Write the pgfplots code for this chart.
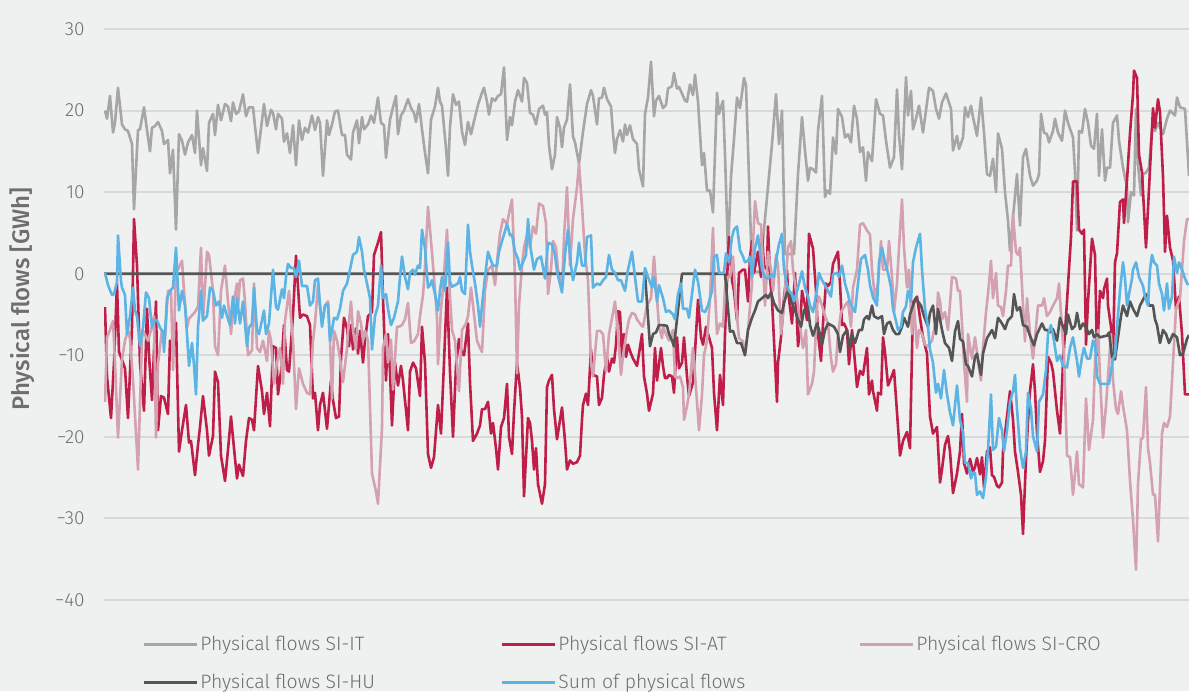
\documentclass[border=0pt]{standalone}
\usepackage{pgfplots}
\pgfplotsset{compat=1.18}
\usepackage{fontspec}
\setmainfont{Fira Sans Light}[BoldFont={Fira Sans Medium}]
\definecolor{bgc}{RGB}{239,240,240}
\definecolor{gridc}{RGB}{216,218,218}
\definecolor{cIT}{RGB}{166,166,166}
\definecolor{cAT}{RGB}{190,30,72}
\definecolor{cCRO}{RGB}{212,161,177}
\definecolor{cHU}{RGB}{85,85,85}
\definecolor{cSUM}{RGB}{92,180,229}
\definecolor{tickc}{RGB}{110,110,110}
\begin{document}
\begin{tikzpicture}
\fill[bgc] (-52pt,-45.5pt) rectangle (542.5pt,300pt);
\begin{axis}[
  scale only axis, width=542.5pt, height=285.5pt,
  xmin=104, xmax=1189, ymin=-40, ymax=30,
  axis line style={draw=none},
  xtick=\empty,
  ytick={-40,-30,-20,-10,0,10,20,30},
  yticklabels={−40,−30,−20,−10,0,10,20,30},
  ymajorgrids, grid style={color=gridc, line width=1pt},
  major tick length=0pt,
  yticklabel style={font=\fontsize{9.5}{11}\selectfont, text=tickc, inner sep=0pt, xshift=-9.5pt},
  no markers,
  every axis plot post/.append style={line width=1.3pt, line join=round},
  legend columns=3,
  legend cell align=left,
  legend image code/.code={\draw[#1,line width=1.5pt] (0pt,0pt) -- (26.5pt,0pt);},
  legend style={at={(0,0)}, anchor=north west, xshift=19pt, yshift=-15.5pt, draw=none, fill=none, inner sep=0pt, column sep=0pt, row sep=6.5pt, font=\fontsize{9.7}{11}\selectfont, text=tickc},
]
% SI-IT
\addplot[cIT] coordinates {(105,20.0)(107,19.0)(110,21.8)(113,17.3)(115,18.5)(118,22.8)(122,18.3)(125,17.7)(128,17.5)(132,15.9)(134,7.9)(138,17.6)(140,17.7)(144,20.4)(147,17.6)(150,15.0)(152,17.9)(155,18.1)(158,18.6)(162,17.5)(164,15.9)(168,16.4)(170,12.3)(173,15.2)(176,5.4)(179,17.1)(182,16.3)(185,14.6)(188,16.1)(192,17.0)(195,14.8)(197,20.0)(201,13.3)(203,15.4)(207,12.6)(209,18.5)(213,19.6)(215,17.0)(218,20.7)(221,18.8)(225,20.8)(228,20.5)(231,18.7)(233,21.0)(236,19.6)(239,19.9)(243,22.0)(246,19.3)(249,20.4)(253,20.4)(255,18.1)(258,14.8)(264,20.8)(267,18.1)(271,20.1)(273,19.7)(276,17.7)(278,19.6)(282,19.0)(284,16.2)(287,17.2)(290,14.8)(293,18.2)(296,13.3)(299,18.8)(302,16.4)(305,17.9)(308,17.3)(312,19.4)(315,17.6)(318,19.2)(320,18.5)(323,12.0)(327,18.8)(329,17.0)(332,18.3)(335,19.9)(338,20.0)(342,17.0)(345,17.0)(347,14.6)(351,14.0)(353,17.3)(357,18.8)(359,16.0)(362,19.2)(364,17.7)(368,18.3)(371,19.4)(374,18.5)(378,21.6)(381,18.5)(384,18.2)(386,14.2)(390,18.9)(393,20.4)(396,21.8)(398,17.1)(401,19.4)(404,20.0)(408,21.4)(411,20.3)(414,19.7)(416,18.6)(419,20.8)(422,17.7)(425,14.8)(428,12.3)(431,18.9)(435,20.5)(438,22.8)(440,21.1)(442,20.6)(446,15.4)(448,12.0)(450,18.0)(453,22.0)(456,20.7)(459,21.1)(462,17.4)(465,15.8)(468,18.6)(471,17.1)(474,18.7)(478,20.7)(482,22.2)(484,22.8)(487,21.1)(489,19.5)(492,21.5)(495,21.2)(498,21.8)(501,22.0)(504,25.3)(507,16.4)(510,19.2)(512,18.2)(515,21.1)(518,22.5)(522,21.1)(524,24.0)(527,23.4)(530,19.7)(533,19.5)(536,18.3)(539,20.2)(543,20.6)(545,19.5)(547,19.8)(549,15.7)(552,12.8)(555,14.6)(557,19.2)(560,17.9)(562,15.5)(564,17.9)(567,18.9)(570,23.2)(573,16.8)(575,16.1)(579,13.5)(583,17.4)(587,20.8)(591,22.5)(593,21.8)(597,18.3)(599,21.5)(602,21.6)(604,22.8)(607,21.4)(611,20.5)(613,17.2)(615,14.8)(617,16.5)(620,17.6)(623,16.2)(625,18.3)(627,17.0)(630,18.2)(633,16.5)(637,15.9)(639,12.8)(643,10.7)(645,19.6)(648,21.6)(651,26.0)(654,19.3)(656,21.2)(659,21.8)(663,20.3)(666,20.7)(668,22.7)(672,23.0)(674,24.6)(677,22.7)(679,22.9)(683,21.8)(685,21.2)(687,21.1)(690,23.2)(693,21.9)(695,24.4)(698,21.1)(702,13.3)(704,14.8)(707,10.2)(710,10.2)(713,7.5)(717,22.2)(719,19.6)(723,21.2)(725,14.6)(728,2.7)(731,11.9)(734,16.5)(737,21.6)(740,20.3)(744,24.0)(746,23.1)(752,0.3)(760,0.2)(772,15.9)(776,22.0)(779,15.9)(782,20.0)(785,2.4)(794,2.4)(798,12.2)(802,19.2)(805,15.1)(808,11.4)(810,13.0)(813,12.8)(816,12.4)(818,17.5)(822,21.8)(825,9.4)(827,10.2)(830,9.8)(833,16.7)(836,14.7)(838,20.2)(842,19.2)(845,16.7)(848,17.1)(851,16.1)(854,20.6)(857,19.0)(860,14.9)(863,15.5)(866,11.4)(868,14.9)(872,13.8)(876,21.4)(880,19.6)(883,19.4)(886,16.3)(890,13.0)(894,14.3)(897,22.6)(899,17.1)(902,12.8)(906,24.1)(908,19.4)(911,22.4)(913,17.7)(916,19.0)(919,20.6)(923,17.3)(929,22.8)(933,22.4)(936,20.2)(939,19.0)(942,21.0)(946,22.1)(951,20.2)(953,15.1)(957,16.9)(959,15.3)(963,16.7)(965,20.4)(968,19.2)(971,20.6)(973,19.2)(977,16.9)(981,21.6)(984,17.3)(987,12.2)(990,12.0)(993,14.1)(996,10.0)(998,17.2)(1002,15.3)(1005,10.0)(1008,6.5)(1010,2.8)(1013,6.9)(1017,12.2)(1020,5.9)(1023,14.3)(1026,15.3)(1030,12.0)(1033,10.8)(1037,11.4)(1039,12.2)(1041,19.6)(1044,17.3)(1047,17.1)(1049,16.1)(1053,17.5)(1055,19.0)(1058,17.3)(1062,16.3)(1065,20.0)(1068,18.5)(1073,16.7)(1075,12.4)(1077,5.3)(1079,17.5)(1082,17.3)(1085,20.2)(1088,18.5)(1091,15.7)(1094,15.3)(1097,19.6)(1099,12.0)(1102,17.7)(1105,11.4)(1107,13.0)(1110,13.0)(1113,18.5)(1117,19.4)(1119,16.3)(1123,13.0)(1127,10.6)(1128,6.3)(1131,10.0)(1134,9.6)(1136,20.2)(1138,13.4)(1141,9.6)(1143,12.2)(1146,12.4)(1149,13.0)(1152,17.7)(1155,17.5)(1158,18.5)(1163,17.1)(1167,19.0)(1170,20.0)(1175,19.4)(1177,21.6)(1180,20.4)(1185,20.2)(1189,12.0)};
\addlegendentry{\makebox[147pt][l]{\hspace{-1pt}Physical flows SI-IT}}
% SI-AT
\addplot[cAT] coordinates {(105,-4.1)(107,-12.6)(111,-17.7)(114,-10.9)(117,-1.2)(119,-9.6)(123,-10.9)(125,-11.6)(128,-17.7)(132,-6.5)(134,6.7)(137,1.0)(140,-10.9)(144,-16.8)(147,-4.3)(149,-10.0)(152,-15.5)(156,-3.4)(158,-19.2)(161,-15.0)(164,-15.2)(168,-17.2)(170,-8.2)(173,-9.0)(176,-6.0)(179,-21.8)(182,-19.2)(186,-16.1)(189,-20.7)(191,-20.5)(195,-24.7)(198,-21.0)(200,-18.8)(203,-15.0)(207,-19.2)(209,-22.3)(213,-19.9)(215,-12.0)(218,-13.3)(221,-22.3)(225,-25.4)(228,-21.6)(231,-17.5)(234,-21.4)(237,-25.1)(239,-23.4)(243,-24.8)(246,-20.5)(249,-17.7)(252,-17.9)(254,-19.2)(258,-11.3)(262,-14.4)(264,-17.2)(267,-14.6)(270,-18.7)(273,-8.9)(276,-9.1)(278,-14.8)(281,-12.0)(284,-6.3)(287,-11.8)(289,-12.0)(293,-5.1)(296,2.2)(300,-5.4)(303,-5.0)(307,-5.2)(310,-6.3)(313,-15.3)(315,-14.6)(318,-19.2)(320,-16.1)(323,-14.6)(327,-19.0)(331,-13.1)(333,-15.5)(336,-17.7)(339,-17.5)(341,-10.4)(344,-5.4)(347,-6.7)(349,-8.9)(351,-6.3)(353,-9.3)(356,-6.7)(358,-9.8)(360,-7.0)(363,-10.9)(365,-8.2)(368,-5.2)(372,-4.7)(374,2.3)(378,3.8)(381,5.1)(383,-3.0)(386,-13.1)(388,-7.4)(390,-12.0)(392,-18.6)(395,-10.9)(398,-13.7)(401,-11.3)(403,-13.1)(408,-19.2)(410,-12.0)(413,-10.9)(416,-11.6)(420,-15.0)(422,-6.5)(425,-10.9)(428,-22.1)(431,-23.8)(434,-22.5)(438,-16.1)(441,-19.6)(444,-10.9)(447,-1.7)(450,-12.0)(453,-20.0)(456,-11.3)(459,-8.0)(462,-9.8)(464,-10.0)(468,-6.1)(470,-13.3)(473,-20.5)(477,-19.6)(480,-18.6)(482,-16.6)(485,-16.6)(488,-15.7)(491,-19.6)(493,-18.3)(496,-21.4)(498,-24.0)(501,-18.8)(504,-17.7)(507,-13.5)(509,-20.0)(512,-22.1)(514,-17.0)(517,-10.9)(520,-14.0)(522,-17.5)(524,-27.3)(528,-17.7)(530,-18.3)(532,-20.5)(534,-24.0)(536,-21.4)(538,-25.8)(542,-28.2)(545,-25.8)(547,-13.9)(549,-13.1)(552,-12.4)(554,-16.6)(557,-20.3)(562,-16.4)(565,-20.5)(567,-24.0)(570,-22.9)(573,-23.3)(577,-23.1)(580,-22.3)(582,-17.9)(583,-16.1)(586,-14.7)(588,-16.1)(591,-9.3)(593,-12.4)(597,-12.6)(599,-16.1)(602,-15.2)(604,-12.4)(607,-10.2)(609,-12.0)(612,-10.4)(614,-10.9)(616,-8.7)(618,-4.6)(620,-4.7)(622,-10.2)(624,-7.4)(626,-10.2)(628,-8.7)(631,-9.8)(633,-10.4)(637,-11.3)(639,-9.8)(642,-7.4)(644,-12.6)(647,-14.7)(649,-16.8)(653,-14.7)(655,-9.1)(657,-13.1)(661,-9.1)(663,-11.3)(665,-12.8)(667,-12.8)(669,-12.4)(672,-12.6)(674,-14.6)(677,-7.8)(679,-11.6)(682,-10.9)(684,-7.8)(687,-12.6)(689,-15.0)(693,-13.3)(695,-9.6)(698,-3.2)(701,-7.8)(703,-8.7)(706,-6.5)(709,-7.8)(712,-9.1)(714,-14.6)(717,-19.2)(720,-12.4)(723,-16.1)(725,-7.4)(727,-0.8)(729,4.5)(732,-0.8)(734,-2.1)(737,-5.7)(739,0.1)(743,0.5)(745,0.5)(748,-3.4)(750,2.0)(752,4.0)(754,0.1)(757,2.1)(758,2.7)(761,-0.4)(762,4.8)(764,1.0)(767,0.5)(768,5.8)(770,-0.4)(772,-3.2)(774,-8.2)(777,-15.7)(778,-10.9)(781,-7.8)(784,-3.0)(787,0.5)(788,-2.1)(792,-6.1)(794,-2.1)(795,0.1)(798,-8.9)(800,-6.9)(802,-2.1)(805,-3.9)(807,-5.7)(809,4.9)(813,3.1)(816,-2.1)(818,-7.4)(821,-10.7)(823,-6.1)(826,-1.2)(828,-1.5)(831,-1.0)(833,1.2)(838,2.7)(840,-1.2)(842,-6.3)(844,-6.1)(847,-6.9)(849,-11.1)(852,-6.9)(855,-10.9)(857,-13.9)(860,-11.9)(863,-12.4)(867,-9.1)(869,-14.8)(872,-13.1)(873,-14.4)(877,-16.8)(878,-14.6)(881,-14.8)(883,-7.8)(885,-9.6)(888,-13.7)(891,-12.8)(894,-11.8)(897,-17.0)(900,-22.3)(903,-20.5)(907,-19.4)(910,-21.4)(913,-3.5)(917,-2.8)(920,-5.4)(923,-7.8)(927,-9.8)(930,-17.5)(933,-19.6)(937,-18.8)(940,-25.6)(942,-24.0)(945,-21.0)(948,-19.9)(950,-21.8)(953,-26.9)(957,-24.5)(960,-21.8)(962,-17.2)(964,-23.2)(967,-24.5)(970,-22.7)(973,-24.3)(975,-23.7)(977,-22.6)(980,-24.6)(982,-22.5)(984,-26.2)(987,-21.8)(990,-21.3)(992,-24.7)(994,-24.9)(997,-26.0)(999,-26.2)(1002,-25.6)(1003,-21.8)(1007,-17.5)(1010,-14.4)(1013,-17.9)(1015,-21.8)(1018,-24.3)(1021,-27.1)(1023,-31.9)(1026,-22.7)(1028,-18.1)(1030,-14.4)(1033,-11.1)(1035,-14.4)(1037,-19.6)(1040,-24.3)(1043,-23.0)(1045,-20.5)(1048,-10.2)(1051,-10.9)(1053,-12.0)(1057,-16.8)(1060,-19.6)(1063,-10.9)(1067,-3.4)(1071,4.5)(1073,11.3)(1077,11.3)(1079,5.4)(1082,4.9)(1084,5.4)(1086,-8.7)(1088,-3.4)(1092,4.3)(1095,2.3)(1097,-10.0)(1100,-2.1)(1103,-3.0)(1104,-1.9)(1107,-0.6)(1108,-3.9)(1111,-6.5)(1113,-10.0)(1115,1.4)(1117,2.5)(1120,8.8)(1123,9.1)(1124,6.2)(1127,11.5)(1130,17.2)(1133,22.0)(1134,24.9)(1137,24.0)(1139,14.6)(1142,12.4)(1146,3.2)(1150,12.8)(1153,20.3)(1155,17.9)(1158,21.4)(1160,19.8)(1163,11.9)(1165,2.7)(1167,7.1)(1170,3.2)(1173,1.6)(1176,-4.3)(1179,-2.8)(1182,-7.4)(1185,-14.8)(1189,-14.8)};
\addlegendentry{\makebox[147pt][l]{\hspace{-1pt}Physical flows SI-AT}}
% SI-CRO
\addplot[cCRO] coordinates {(105,-15.7)(107,-7.8)(110,-6.9)(113,-5.8)(115,-10.9)(118,-20.1)(122,-10.5)(125,-8.2)(128,-6.9)(130,-8.0)(133,-13.0)(138,-24.0)(142,-8.0)(143,-7.0)(148,-8.2)(152,-6.5)(154,-5.2)(156,-20.1)(158,-11.0)(162,-6.9)(165,-8.0)(168,-2.1)(171,-2.1)(173,-11.8)(176,0.5)(178,0.5)(182,1.6)(184,-2.1)(187,-6.6)(189,-5.5)(192,-5.1)(195,-4.7)(198,-4.0)(201,3.2)(203,-5.8)(207,2.7)(209,2.3)(213,-2.1)(215,-8.9)(218,-10.0)(221,-2.1)(225,1.0)(228,-3.4)(231,-7.4)(233,-4.0)(237,-1.2)(238,-4.0)(240,-0.8)(243,-0.6)(245,-3.4)(248,-10.0)(252,-9.4)(254,-1.2)(257,-9.1)(260,-9.6)(263,-8.2)(267,-10.7)(269,-7.0)(271,-8.2)(274,-13.5)(277,-10.9)(280,-9.1)(283,-13.5)(285,-5.8)(289,-2.1)(291,-5.4)(293,-8.2)(296,-16.6)(299,-11.6)(303,-13.5)(307,-14.6)(310,-14.8)(313,-8.2)(315,-6.1)(318,-1.4)(320,-3.9)(322,-6.1)(325,-3.9)(328,-3.4)(330,-8.2)(332,-15.3)(334,-7.0)(337,-8.2)(340,-10.4)(343,-13.3)(347,-9.2)(348,-7.0)(351,-3.4)(353,-7.0)(356,-9.2)(358,-4.6)(361,-6.1)(363,-8.2)(365,-7.0)(368,-8.2)(372,-24.5)(376,-26.7)(378,-28.2)(382,-18.9)(383,-9.1)(386,-7.4)(388,-10.9)(391,-8.1)(393,-14.2)(397,-6.5)(399,-6.5)(402,-6.3)(405,-5.6)(408,-3.6)(411,-8.5)(414,-8.3)(418,-7.4)(420,-5.2)(423,-2.6)(425,0.9)(428,8.2)(431,4.0)(434,-0.4)(437,-5.4)(438,-11.1)(441,-4.3)(443,-1.9)(447,5.4)(449,-0.8)(452,-6.9)(455,-8.2)(459,-14.4)(462,-6.9)(466,-6.1)(468,-5.2)(471,-1.7)(477,-8.2)(480,-9.1)(482,-9.6)(485,-2.1)(488,0.5)(492,1.0)(495,-1.4)(498,2.7)(500,4.9)(503,6.7)(507,6.1)(510,8.0)(512,9.1)(515,-0.4)(517,-12.2)(519,-3.9)(522,1.0)(524,3.2)(528,5.4)(530,3.2)(533,5.8)(536,4.9)(539,8.6)(543,8.3)(546,6.2)(548,-2.5)(551,0.5)(553,4.0)(556,3.2)(558,0.5)(562,-1.7)(564,4.4)(567,10.6)(570,1.0)(573,6.7)(577,10.6)(579,13.5)(582,8.3)(585,2.3)(588,-0.8)(591,-10.9)(593,-12.6)(597,-7.0)(600,-7.0)(603,-7.4)(606,-12.0)(609,-7.4)(613,-4.8)(615,-3.4)(618,-7.4)(621,-12.4)(623,-10.0)(627,-6.9)(629,-5.6)(632,-4.8)(635,-5.0)(637,-5.6)(641,-6.3)(643,-6.5)(647,-3.9)(651,-3.0)(654,2.1)(657,-3.0)(659,-6.5)(662,-7.9)(663,-6.5)(666,-7.4)(669,-8.2)(673,-6.9)(675,-12.6)(677,-12.8)(680,-12.6)(683,-13.9)(684,-17.9)(687,-16.2)(689,-14.8)(693,-9.1)(697,-15.7)(699,-19.2)(702,-14.8)(704,-10.0)(707,-8.2)(710,-3.0)(713,5.6)(715,-2.1)(717,-7.4)(720,-6.1)(723,-6.5)(725,-1.7)(727,-0.4)(730,-0.4)(733,2.1)(736,-3.9)(739,-7.9)(743,-8.3)(745,-10.0)(748,-6.9)(752,-1.2)(753,3.6)(755,8.9)(758,6.2)(761,6.0)(763,1.0)(765,-3.9)(768,2.7)(771,0.5)(773,-2.1)(776,2.3)(778,1.0)(781,-7.4)(784,-3.9)(788,3.2)(791,4.0)(793,0.5)(796,-2.1)(798,-3.9)(801,-7.4)(803,-9.1)(806,-6.9)(808,-14.8)(812,-13.5)(814,-12.0)(817,-3.9)(819,-2.8)(822,-3.9)(825,-5.2)(828,-6.1)(831,-10.4)(833,-12.0)(836,-11.1)(838,-7.4)(841,-4.7)(845,-3.9)(848,-3.4)(851,-6.5)(853,-1.7)(857,0.5)(860,6.0)(863,6.2)(867,5.3)(870,4.8)(872,0.5)(875,-3.0)(878,-1.2)(881,4.0)(883,0.5)(887,0.5)(889,4.0)(892,-0.4)(894,-4.7)(897,-1.2)(899,3.2)(902,9.1)(904,3.2)(907,-1.7)(909,0.5)(912,-7.4)(914,-3.9)(917,-9.1)(919,-6.9)(922,-7.4)(925,-8.7)(928,-8.9)(932,-8.2)(934,-6.9)(937,-5.2)(938,-2.3)(940,-3.4)(942,-5.6)(945,-4.7)(948,-6.9)(952,-0.4)(956,-0.6)(958,-2.1)(960,-2.1)(962,-6.1)(964,-10.9)(967,-15.7)(968,-7.4)(972,-10.4)(975,-7.8)(977,-9.6)(978,-10.9)(981,-13.1)(983,-9.1)(986,-4.7)(988,-2.5)(991,1.6)(993,-3.0)(996,0.1)(998,-3.9)(1001,-4.1)(1003,-5.2)(1006,-2.1)(1008,1.0)(1011,1.0)(1013,7.3)(1016,2.7)(1018,2.3)(1020,3.2)(1023,-3.9)(1025,-8.3)(1027,-3.0)(1030,-7.4)(1033,-10.4)(1035,-7.9)(1038,-3.9)(1042,-3.9)(1044,-3.0)(1047,-5.2)(1050,-4.7)(1053,-3.9)(1057,-3.0)(1059,-1.2)(1062,-6.9)(1064,-10.0)(1067,-22.3)(1070,-22.5)(1073,-27.1)(1077,-21.8)(1079,-25.8)(1083,-26.2)(1086,-15.3)(1089,-21.6)(1093,-17.9)(1095,-10.9)(1098,-6.9)(1100,-12.6)(1103,-20.1)(1106,-16.2)(1108,-12.6)(1111,-7.4)(1113,-13.1)(1116,-16.6)(1118,-17.2)(1121,-14.4)(1123,-16.2)(1127,-19.2)(1130,-25.4)(1133,-30.2)(1136,-36.3)(1138,-25.8)(1141,-20.3)(1143,-20.1)(1146,-13.9)(1148,-21.4)(1150,-23.2)(1153,-27.1)(1155,-27.1)(1158,-32.8)(1162,-19.6)(1164,-18.3)(1167,-18.8)(1170,-17.5)(1173,-10.9)(1176,-4.3)(1180,-3.0)(1184,4.0)(1187,6.7)(1189,6.7)};
\addlegendentry{\makebox[147pt][l]{\hspace{-1pt}Physical flows SI-CRO}}
% SI-HU
\addplot[cHU] coordinates {(104,0)(645,0)(650,-8.9)(653,-7.4)(656,-7.2)(659,-6.3)(663,-6.3)(667,-6.4)(669,-7.4)(672,-8.2)(674,-8.9)(682,0)(725,0)(730,-7.1)(733,-7.0)(737,-8.5)(741,-8.5)(745,-10.0)(748,-6.9)(752,-5.4)(755,-4.5)(758,-3.4)(762,-3.0)(766,-2.6)(768,-3.0)(771,-2.3)(774,-3.6)(778,-4.5)(782,-4.8)(784,-3.6)(787,-2.3)(790,-2.7)(792,-3.6)(795,-4.5)(798,-5.6)(801,-6.5)(804,-4.5)(808,-4.1)(810,-6.3)(813,-7.6)(817,-6.1)(819,-6.9)(822,-8.7)(825,-6.9)(828,-6.1)(831,-6.3)(834,-6.5)(838,-7.4)(840,-9.6)(843,-7.6)(847,-6.9)(850,-9.1)(852,-7.4)(855,-8.5)(859,-6.9)(862,-6.9)(864,-5.6)(867,-5.2)(869,-5.6)(872,-3.9)(874,-5.2)(878,-5.5)(882,-5.2)(884,-7.4)(887,-6.1)(890,-5.9)(893,-6.9)(896,-7.4)(899,-7.4)(902,-6.5)(904,-5.4)(908,-6.5)(910,-5.0)(913,-3.9)(916,-3.0)(918,-3.4)(921,-3.9)(924,-5.2)(928,-6.5)(930,-4.8)(933,-3.9)(936,-7.4)(938,-4.3)(942,-6.9)(945,-8.5)(949,-9.1)(952,-10.7)(955,-7.1)(958,-5.8)(960,-8.0)(963,-8.3)(966,-11.1)(968,-11.3)(972,-12.6)(975,-10.2)(977,-9.8)(981,-12.4)(983,-9.8)(987,-7.9)(992,-6.9)(995,-7.9)(998,-5.4)(1002,-6.1)(1005,-6.8)(1008,-5.7)(1012,-5.2)(1014,-2.5)(1017,-4.5)(1020,-4.1)(1023,-6.3)(1027,-6.5)(1030,-7.6)(1034,-8.8)(1037,-7.4)(1042,-6.1)(1045,-6.9)(1047,-6.9)(1050,-7.2)(1053,-6.8)(1057,-8.2)(1060,-5.4)(1063,-6.5)(1066,-7.4)(1068,-5.0)(1072,-6.8)(1075,-6.4)(1077,-4.8)(1080,-6.8)(1083,-6.1)(1086,-6.6)(1089,-7.4)(1092,-6.9)(1094,-7.8)(1097,-7.4)(1100,-7.8)(1103,-7.7)(1107,-7.6)(1109,-7.2)(1112,-10.2)(1115,-10.5)(1118,-7.8)(1121,-5.2)(1123,-3.9)(1127,-5.2)(1130,-3.4)(1133,-4.3)(1137,-5.2)(1140,-3.9)(1143,-3.2)(1146,-2.5)(1149,-3.9)(1153,-3.9)(1155,-5.6)(1157,-6.3)(1160,-8.5)(1163,-6.9)(1166,-7.4)(1169,-8.5)(1173,-7.4)(1177,-7.8)(1180,-10.0)(1183,-9.8)(1187,-8.0)(1189,-7.5)};
\addlegendentry{\makebox[147pt][l]{\hspace{-1pt}Physical flows SI-HU}}
% Sum
\addplot[cSUM] coordinates {(105,0.1)(108,-1.4)(112,-2.6)(114,-2.5)(117,-1.0)(118,4.7)(121,-0.9)(122,-1.7)(125,-2.6)(127,-7.4)(130,-5.2)(133,-1.7)(135,-4.5)(137,-5.2)(140,-8.9)(143,-6.6)(146,-2.3)(149,-3.0)(152,-6.6)(154,-5.7)(157,-5.7)(160,-6.6)(163,-7.2)(164,-9.6)(167,-3.0)(170,-2.1)(173,-1.7)(176,3.2)(179,-4.5)(182,-2.1)(185,-3.9)(187,-7.4)(189,-11.3)(192,-8.5)(194,-11.2)(196,-14.8)(198,-6.6)(201,-2.1)(203,-5.7)(207,-5.2)(210,-1.7)(213,-2.1)(216,-3.9)(219,-3.4)(222,-5.4)(224,-3.9)(227,-5.2)(230,-6.3)(233,-2.8)(235,-6.1)(237,-3.0)(240,-6.1)(243,-3.4)(247,-8.9)(249,-6.6)(252,-6.1)(254,-1.7)(257,-7.0)(259,-7.4)(262,-5.7)(264,-4.5)(266,-7.4)(269,-6.1)(273,0.5)(276,-4.1)(278,-4.4)(282,-1.9)(284,-3.0)(286,-0.4)(288,1.2)(291,0.7)(294,0.7)(296,-0.4)(299,1.6)(302,-1.5)(304,-1.5)(307,-1.5)(310,-3.9)(313,-3.4)(315,-0.8)(318,-0.6)(320,-3.9)(322,-6.5)(325,-3.9)(328,-3.7)(330,-8.2)(332,-6.9)(334,-5.4)(337,-5.6)(340,-4.3)(343,-2.1)(347,-1.2)(350,0.5)(353,2.3)(357,2.7)(359,4.5)(362,2.7)(364,0.5)(367,-1.2)(370,-3.0)(372,-9.3)(375,-5.2)(378,-3.9)(381,1.0)(383,-3.0)(386,-2.5)(388,-4.3)(391,-6.3)(394,-5.4)(398,-3.4)(400,-0.4)(402,2.1)(405,-0.4)(408,-1.9)(410,0.1)(413,0.5)(415,-0.1)(418,1.0)(420,0.7)(422,5.4)(425,3.1)(428,-1.7)(430,-1.4)(432,-0.8)(435,-2.5)(438,-4.5)(440,-2.1)(442,-0.4)(445,-2.1)(448,3.8)(450,-1.0)(452,-1.6)(455,-1.4)(458,-1.2)(460,-0.4)(462,-2.1)(465,-2.5)(468,6.0)(470,2.7)(472,1.0)(475,-1.2)(478,-3.9)(480,-6.5)(482,-3.9)(485,-0.4)(488,2.7)(491,1.6)(493,1.0)(497,1.0)(499,2.7)(502,4.0)(504,4.8)(507,6.1)(510,4.7)(512,4.8)(515,2.7)(518,1.8)(520,0.5)(523,1.4)(526,2.3)(528,6.7)(530,3.6)(534,0.5)(537,1.8)(541,2.1)(545,-0.6)(548,3.8)(552,3.6)(555,2.3)(557,0.3)(562,-2.3)(565,2.3)(568,5.4)(571,1.0)(573,-0.8)(577,1.4)(579,3.8)(582,1.0)(585,1.0)(587,4.5)(591,4.7)(593,-1.7)(597,-1.2)(600,-1.4)(603,-0.8)(606,-0.4)(609,2.3)(612,0.5)(615,0.1)(618,-0.8)(621,-0.8)(625,-2.1)(628,0.5)(632,2.7)(635,-0.4)(638,-3.4)(642,-3.4)(645,0.7)(648,-0.4)(652,-1.7)(654,-0.4)(657,-3.4)(659,-1.4)(663,-3.0)(666,-4.7)(669,-4.5)(673,-5.0)(675,-5.6)(678,-2.5)(681,-1.2)(683,-4.3)(687,-4.3)(689,-5.4)(692,-2.5)(695,0.5)(698,-1.0)(702,-4.5)(705,-4.7)(708,-3.9)(712,-2.1)(714,2.1)(717,2.3)(719,0.1)(722,0.1)(724,0.1)(726,2.5)(729,1.4)(732,4.5)(734,5.4)(737,5.8)(740,2.9)(743,2.1)(745,1.4)(748,1.6)(750,2.1)(752,-0.4)(755,3.1)(758,4.7)(760,2.7)(762,0.5)(765,-0.4)(768,-0.6)(772,-0.1)(774,-0.4)(777,2.3)(779,3.6)(782,4.9)(784,0.5)(787,-1.4)(789,-2.1)(792,-2.5)(794,-3.4)(797,-2.1)(799,-1.2)(802,0.3)(805,-1.7)(808,-2.8)(810,-3.9)(813,-4.7)(817,-1.9)(819,0.1)(822,-0.8)(825,-1.4)(828,-2.1)(831,-2.8)(833,-0.1)(837,0.1)(839,-0.4)(842,1.0)(845,-1.2)(848,-2.5)(850,-3.6)(855,-4.7)(858,-1.2)(861,1.8)(865,2.3)(868,0.5)(870,-1.4)(873,-2.9)(877,-3.9)(879,1.4)(882,3.2)(885,1.4)(888,0.1)(891,-1.7)(893,-4.3)(896,-5.8)(898,-6.9)(901,-6.5)(903,-4.7)(906,-4.0)(908,-2.1)(911,-3.4)(913,1.4)(916,3.2)(920,4.9)(922,0.5)(925,-4.3)(928,-6.5)(930,-9.3)(933,-10.9)(936,-14.6)(938,-13.5)(941,-15.3)(944,-11.8)(947,-14.8)(950,-17.0)(953,-18.6)(957,-13.7)(960,-17.9)(963,-19.5)(965,-23.2)(968,-23.2)(971,-25.1)(973,-24.4)(975,-24.4)(977,-27.1)(980,-26.7)(983,-27.5)(986,-24.9)(988,-21.6)(991,-14.8)(993,-21.6)(996,-21.2)(999,-17.7)(1002,-19.2)(1004,-21.8)(1007,-19.2)(1010,-15.7)(1013,-14.4)(1015,-12.4)(1017,-16.6)(1020,-21.4)(1023,-23.8)(1026,-21.8)(1028,-14.6)(1031,-16.6)(1033,-19.9)(1037,-21.8)(1039,-15.7)(1043,-14.8)(1046,-11.8)(1048,-7.4)(1051,-6.3)(1054,-8.2)(1057,-10.7)(1060,-10.0)(1063,-11.3)(1067,-11.5)(1070,-9.1)(1073,-7.8)(1077,-10.7)(1079,-12.6)(1082,-10.2)(1084,-9.1)(1087,-10.4)(1090,-10.4)(1093,-8.2)(1095,-8.4)(1097,-12.6)(1100,-13.5)(1103,-13.5)(1109,-13.5)(1113,-10.4)(1115,-10.0)(1117,-6.5)(1120,-2.1)(1123,1.4)(1125,-0.6)(1127,-3.9)(1129,-2.5)(1132,-0.6)(1133,0.5)(1136,1.4)(1139,-0.4)(1143,-1.5)(1145,-2.8)(1148,-3.9)(1150,0.5)(1152,2.3)(1154,1.4)(1157,1.0)(1159,-1.2)(1162,-2.5)(1164,-4.5)(1167,-1.2)(1169,-4.3)(1172,-2.8)(1174,2.1)(1177,0.1)(1179,1.4)(1182,0.5)(1185,-0.6)(1188,-1.4)};
\addlegendentry{\makebox[147pt][l]{\hspace{-1pt}Sum of physical flows}}
\end{axis}
\node[rotate=90, font=\bfseries\fontsize{12}{14}\selectfont, text=tickc] at (-41pt,150.5pt) {Physical flows [GWh]};
\pgfresetboundingbox
\useasboundingbox (-52pt,-45.5pt) rectangle (542.5pt,300pt);
\end{tikzpicture}
\end{document}
